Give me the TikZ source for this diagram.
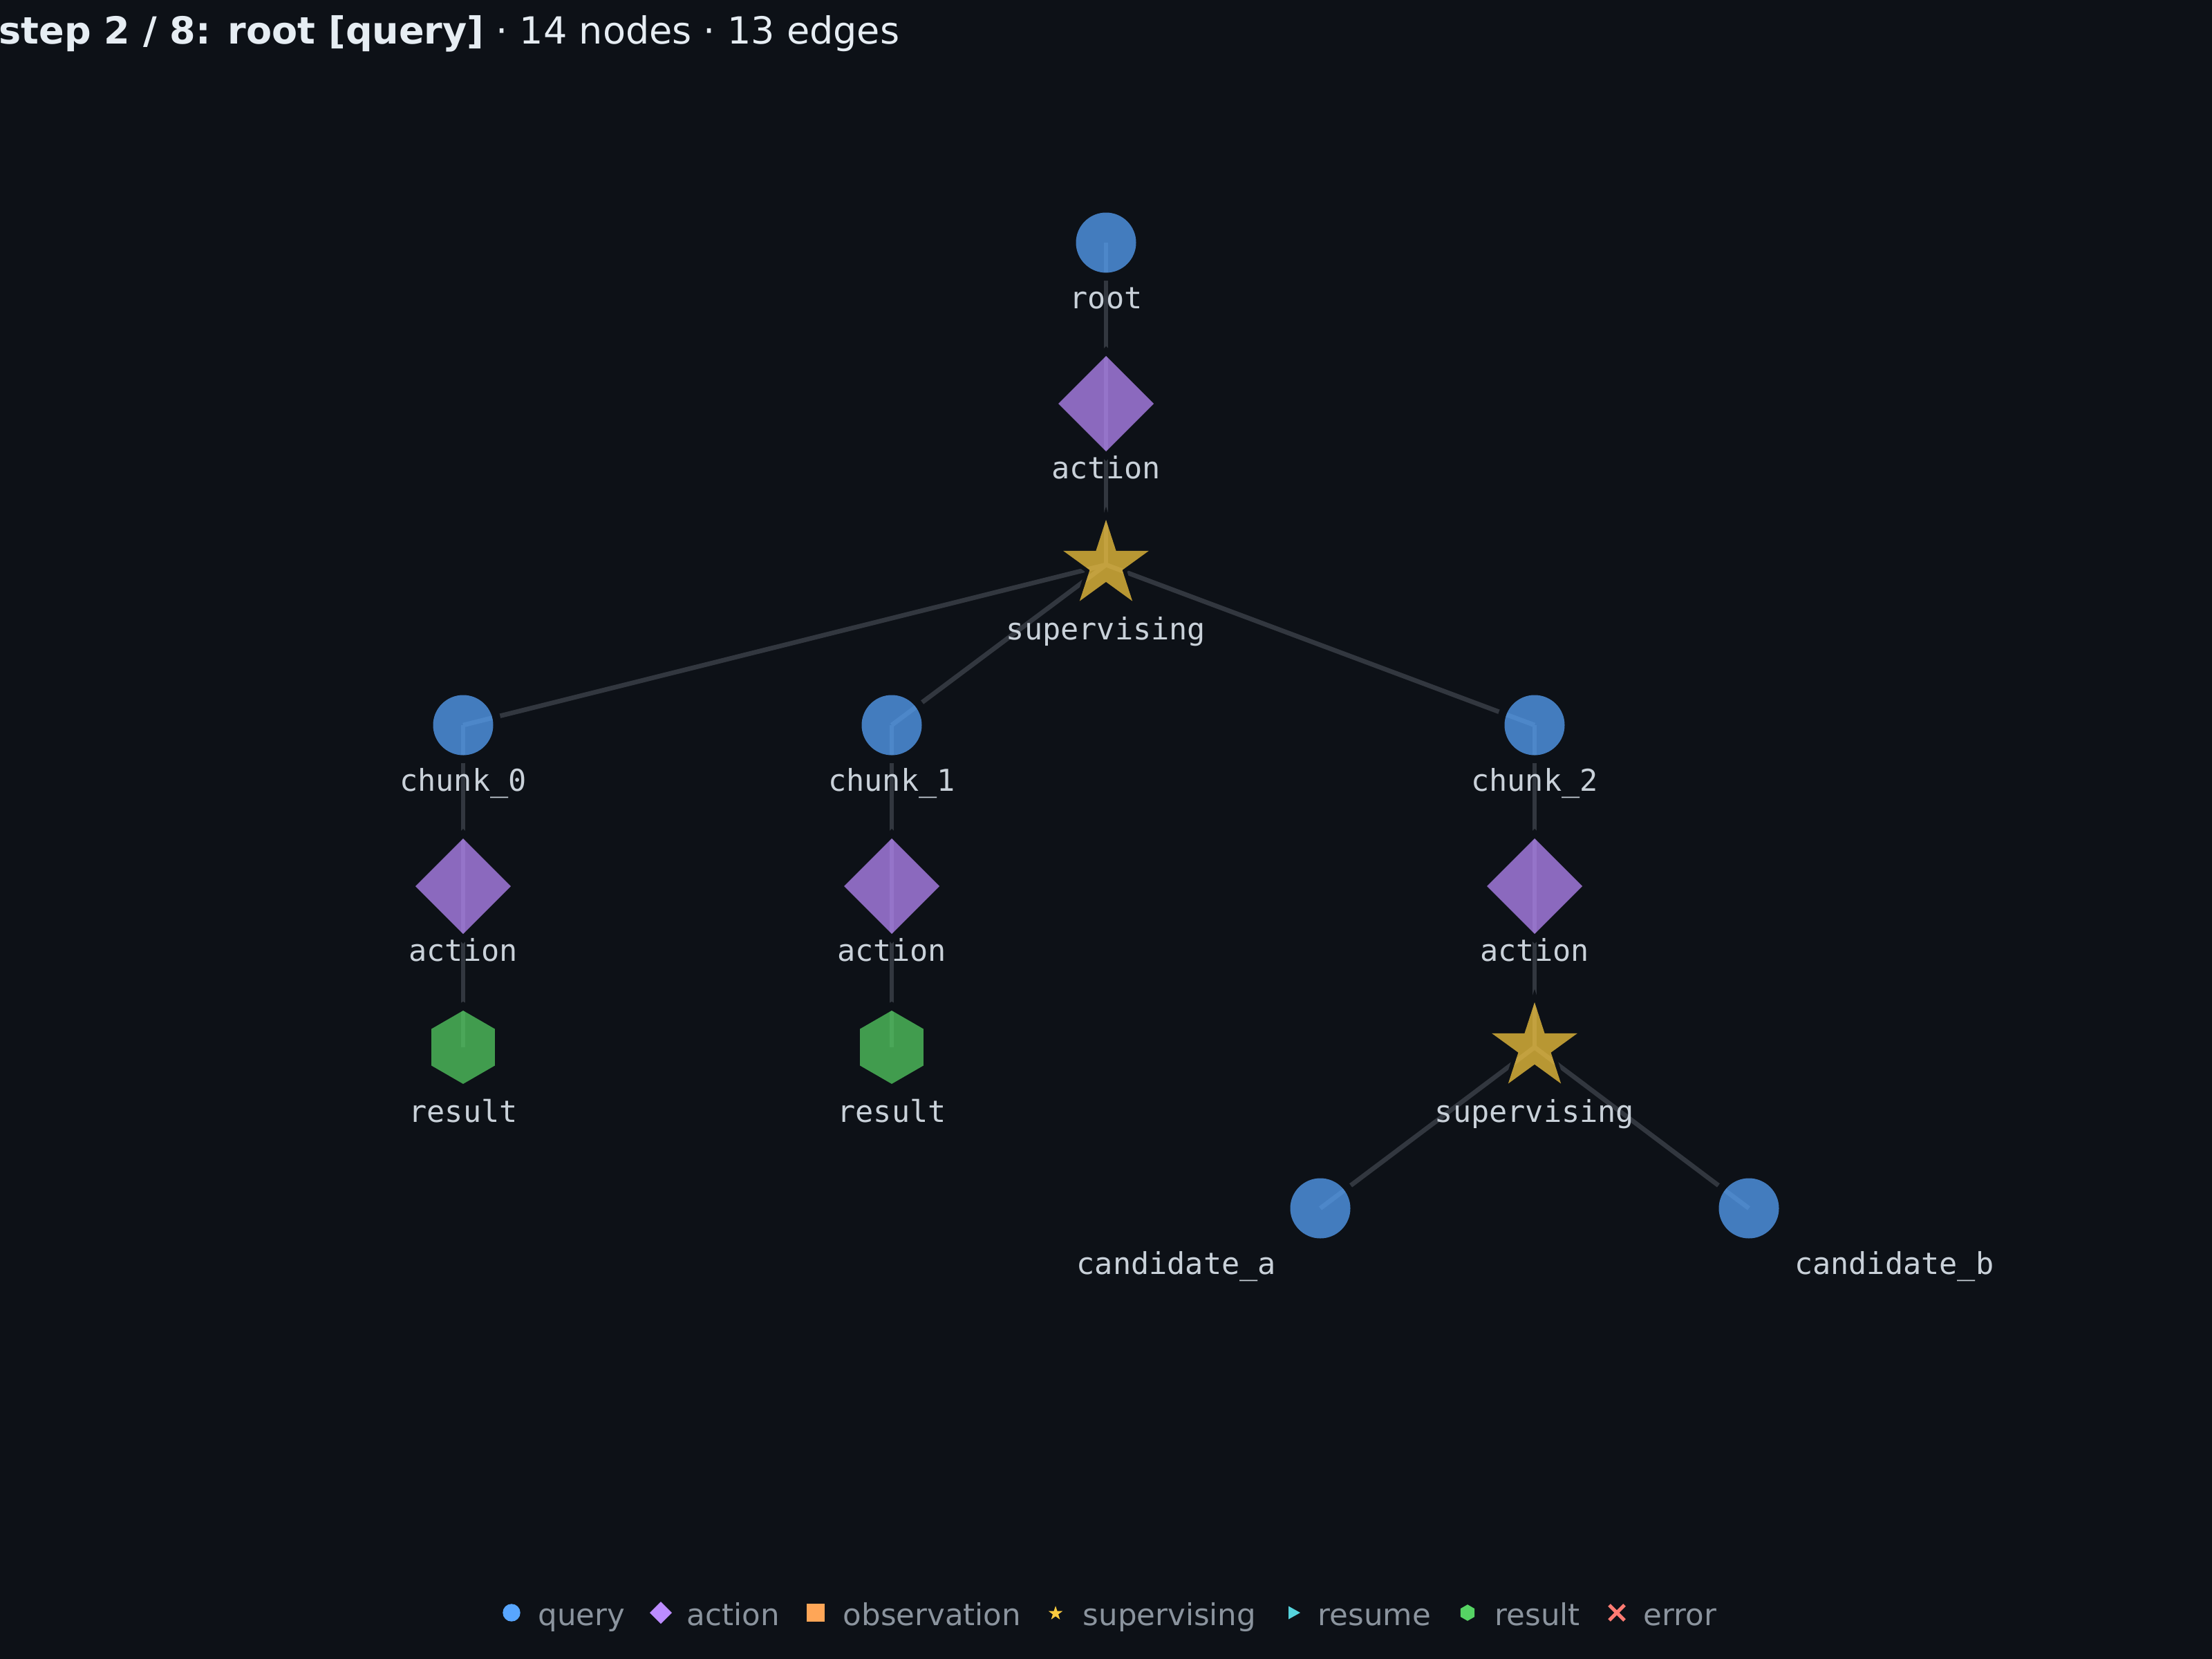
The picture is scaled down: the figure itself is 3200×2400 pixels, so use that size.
\documentclass[tikz,border=0pt]{standalone}
\usepackage{fontspec}
\setmainfont{DejaVu Sans}
\newfontfamily\monof{DejaVu Sans Mono}
\definecolor{bgc}{HTML}{0D1117}
\definecolor{edgec}{HTML}{32373F}
\definecolor{labc}{HTML}{C9D1D9}
\definecolor{titc}{HTML}{E6EDF3}
\definecolor{legc}{HTML}{8B949E}
\definecolor{qc}{HTML}{58A6FF}
\definecolor{ac}{HTML}{BC8CFF}
\definecolor{oc}{HTML}{FFA657}
\definecolor{sc}{HTML}{FBCB3F}
\definecolor{rsc}{HTML}{56D4DD}
\definecolor{rc}{HTML}{56D364}
\definecolor{ec}{HTML}{FF7B72}
\newcommand\pStar[2]{(270:#1) -- (306:#2) -- (342:#1) -- (18:#2) -- (54:#1) -- (90:#2) -- (126:#1) -- (162:#2) -- (198:#1) -- (234:#2) -- cycle}
\newcommand\pHex[1]{(270:#1) -- (330:#1) -- (30:#1) -- (90:#1) -- (150:#1) -- (210:#1) -- cycle}
\newcommand\pDiam[1]{(0,-#1) -- (#1,0) -- (0,#1) -- (-#1,0) -- cycle}
\newcommand\pCirc[1]{(0,0) circle[radius=#1]}
\begin{document}
\begin{tikzpicture}[x=0.01cm,y=-0.01cm,
  edge/.style={draw=edgec, line width=1.9pt},
  ring/.style={fill=bgc, even odd rule},
  nfill/.style={fill opacity=0.72},
  lbl/.style={anchor=base, inner sep=0pt, text=labc, font=\monof\fontsize{12.38}{14}\selectfont},
  legtxt/.style={anchor=base west, inner sep=0pt, text=legc, font=\fontsize{12.38}{14}\selectfont}]
\useasboundingbox (0,0) rectangle (3200,2400);
\fill[bgc] (0,0) rectangle (3200,2400);
% node positions
\coordinate (root) at (1600,351);
\coordinate (act0) at (1600,584);
\coordinate (sup0) at (1600,817);
\coordinate (ch0) at (670,1049);
\coordinate (ch1) at (1290,1049);
\coordinate (ch2) at (2220,1049);
\coordinate (a0) at (670,1282);
\coordinate (a1) at (1290,1282);
\coordinate (a2) at (2220,1282);
\coordinate (res0) at (670,1515);
\coordinate (res1) at (1290,1515);
\coordinate (sup1) at (2220,1515);
\coordinate (canda) at (1910,1748);
\coordinate (candb) at (2530,1748);
% edges
\foreach \a/\b in {root/act0, act0/sup0, sup0/ch0, sup0/ch1, sup0/ch2, ch0/a0, ch1/a1, ch2/a2, a0/res0, a1/res1, a2/sup1, sup1/canda, sup1/candb}
  \draw[edge] (\a) -- (\b);
% halos
\foreach \n in {root,ch0,ch1,ch2,canda,candb}
  \fill[ring, shift={(\n)}] \pCirc{55} \pCirc{43.5};
\foreach \n in {act0,a0,a1,a2}
  \fill[ring, shift={(\n)}] \pDiam{83} \pDiam{69};
\foreach \n in {sup0,sup1}
  \fill[ring, shift={(\n)}] \pStar{84}{32} \pStar{65}{24.8};
\foreach \n in {res0,res1}
  \fill[ring, shift={(\n)}] \pHex{66} \pHex{53};
% node shapes
\foreach \n in {root,ch0,ch1,ch2,canda,candb}
  \fill[qc, nfill, shift={(\n)}] \pCirc{43.5};
\foreach \n in {act0,a0,a1,a2}
  \fill[ac, nfill, shift={(\n)}] \pDiam{69};
\foreach \n in {sup0,sup1}
  \fill[sc, nfill, shift={(\n)}] \pStar{65}{24.8};
\foreach \n in {res0,res1}
  \fill[rc, nfill, shift={(\n)}] \pHex{53};
% labels
\node[lbl] (l-root) at ([yshift=-0.95cm]root) {root};
\node[lbl] (l-act0) at ([yshift=-1.08cm]act0) {action};
\node[lbl] (l-sup0) at ([yshift=-1.08cm]sup0) {supervising};
\node[lbl] (l-ch0) at ([yshift=-0.95cm]ch0) {chunk\_0};
\node[lbl] (l-ch1) at ([yshift=-0.95cm]ch1) {chunk\_1};
\node[lbl] (l-ch2) at ([yshift=-0.95cm]ch2) {chunk\_2};
\node[lbl] (l-a0) at ([yshift=-1.08cm]a0) {action};
\node[lbl] (l-a1) at ([yshift=-1.08cm]a1) {action};
\node[lbl] (l-a2) at ([yshift=-1.08cm]a2) {action};
\node[lbl] (l-res0) at ([yshift=-1.08cm]res0) {result};
\node[lbl] (l-res1) at ([yshift=-1.08cm]res1) {result};
\node[lbl] (l-sup1) at ([yshift=-1.08cm]sup1) {supervising};
\node[lbl] (l-canda) at ([xshift=-2.08cm,yshift=-0.95cm]canda) {candidate\_a};
\node[lbl] (l-candb) at ([xshift=2.1cm,yshift=-0.95cm]candb) {candidate\_b};
% title
\node[anchor=base west, inner sep=0pt, text=titc, font=\fontsize{15.36}{18}\selectfont] (title) at (-2,64)
  {\textbf{step 2 / 8: root [query]} · 14 nodes · 13 edges};
% legend
\coordinate (lg-q) at (740,2333);
\coordinate (lg-a) at (956,2333);
\coordinate (lg-o) at (1180,2333);
\coordinate (lg-s) at (1527,2334);
\coordinate (lg-rs) at (1872,2333);
\coordinate (lg-r) at (2123,2333);
\coordinate (lg-e) at (2339,2333);
\fill[qc, shift={(lg-q)}] \pCirc{12.7};
\fill[ac, shift={(lg-a)}] \pDiam{16};
\fill[oc, shift={(lg-o)}] (-12.8,-12.8) rectangle (12.8,12.8);
\fill[sc, shift={(lg-s)}] \pStar{10.8}{4.2};
\fill[rsc, shift={(lg-rs)}] (9,0) -- (-8,-9.5) -- (-8,9.5) -- cycle;
\fill[rc, shift={(lg-r)}] \pHex{11.8};
\draw[ec, line width=1.45pt, shift={(lg-e)}] (-11,-11) -- (11,11) (-11,11) -- (11,-11);
\node[legtxt] (t-q) at (778,2351) {query};
\node[legtxt] (t-a) at (993,2351) {action};
\node[legtxt] (t-o) at (1219,2351) {observation};
\node[legtxt] (t-s) at (1566,2351) {supervising};
\node[legtxt] (t-rs) at (1906,2351) {resume};
\node[legtxt] (t-r) at (2162,2351) {result};
\node[legtxt] (t-e) at (2377,2351) {error};
\end{tikzpicture}
\end{document}
